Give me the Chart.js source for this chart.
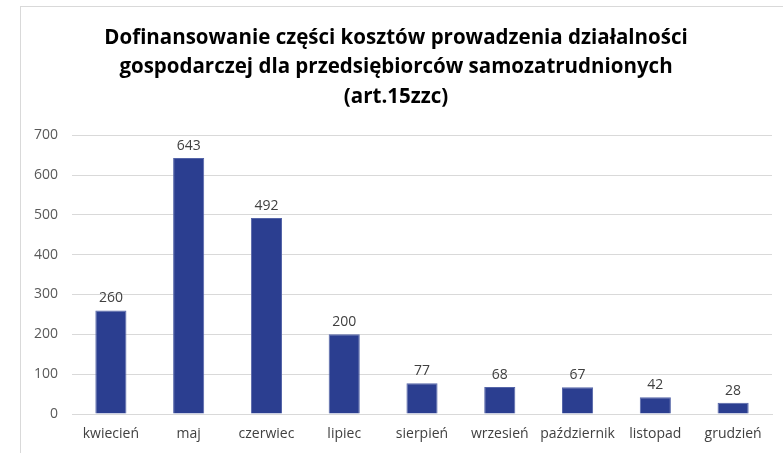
<!DOCTYPE html>
<html>
<head>
<meta charset="utf-8">
<script src="https://cdn.jsdelivr.net/npm/chart.js@4"></script>
<style>
  html, body { margin: 0; padding: 0; background: #fff; }
  #wrap { position: relative; width: 783px; height: 453px; }
  #frame { position: absolute; left: 20px; top: 6px; width: 800px; height: 500px;
           border-left: 1px solid #d9d9d9; border-top: 1px solid #d9d9d9; }
  canvas { position: absolute; left: 0; top: 0; }
</style>
</head>
<body>
<div id="wrap">
  <div id="frame"></div>
  <canvas id="myChart" width="783" height="453"></canvas>
</div>
<script>
var months = ['kwiecień', 'maj', 'czerwiec', 'lipiec', 'sierpień', 'wrzesień', 'październik', 'listopad', 'grudzień'];
var values = [260, 643, 492, 200, 77, 68, 67, 42, 28];
var titleLines = [
  'Dofinansowanie części kosztów prowadzenia działalności',
  'gospodarczej dla przedsiębiorców samozatrudnionych',
  '(art.15zzc)'
];

// labels above bars
var valueLabels = {
  id: 'valueLabels',
  afterDatasetsDraw: function (chart) {
    var ctx = chart.ctx;
    var meta = chart.getDatasetMeta(0);
    ctx.save();
    ctx.font = '14px "Open Sans", sans-serif';
    ctx.fillStyle = '#404040';
    ctx.textAlign = 'center';
    ctx.textBaseline = 'bottom';
    meta.data.forEach(function (bar, i) {
      ctx.fillText(values[i], bar.x, bar.y - 5);
    });
    ctx.restore();
  }
};

var ctx = document.getElementById('myChart');
new Chart(ctx, {
  type: 'bar',
  data: {
    labels: months,
    datasets: [{
      data: values,
      backgroundColor: '#2B3E90',
      borderColor: '#5565a8',
      borderWidth: 1,
      barPercentage: 0.4,
      categoryPercentage: 1
    }]
  },
  options: {
    responsive: false,
    animation: false,
    layout: { padding: { left: 20, right: 11, top: 8, bottom: 0 } },
    plugins: {
      legend: { display: false },
      tooltip: { enabled: false },
      title: {
        display: true,
        text: titleLines,
        color: '#000',
        font: { family: '"Open Sans", sans-serif', size: 20.5, weight: 'bold', lineHeight: 1.45 },
        padding: { top: 15, bottom: 23 }
      }
    },
    scales: {
      x: {
        grid: { display: false, drawTicks: false },
        border: { color: '#d9d9d9' },
        ticks: {
          color: '#404040', padding: 12, maxRotation: 0, minRotation: 0, autoSkip: false,
          font: { family: '"Open Sans", sans-serif', size: 14 }
        },
        afterFit: function (s) { s.height = 39; }
      },
      y: {
        min: 0,
        max: 700,
        ticks: { stepSize: 100, color: '#595959', padding: 14, font: { family: '"Open Sans", sans-serif', size: 14 } },
        grid: { color: '#d9d9d9', drawTicks: false },
        border: { display: false },
        afterFit: function (s) { s.width = 52; }
      }
    }
  },
  plugins: [valueLabels]
});
</script>
</body>
</html>
